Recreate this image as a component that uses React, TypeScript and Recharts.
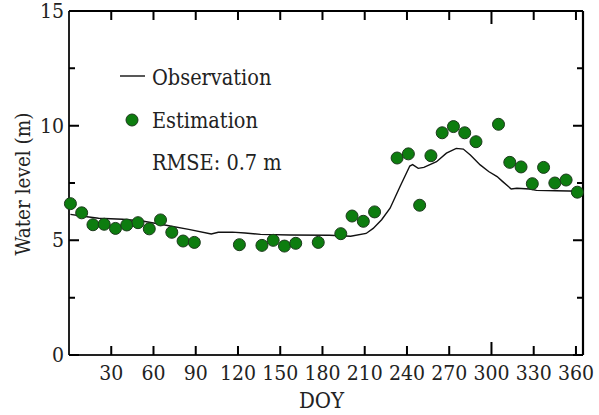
import React from "react";
import { ComposedChart, Line, Scatter, XAxis, YAxis, ReferenceLine } from "recharts";

const obsDays = [1, 10, 21, 38, 52, 68, 85, 101, 106, 116, 125, 136, 157, 185, 200, 211, 216, 222, 228, 235, 242, 244, 248, 252, 261, 268, 275, 280, 285, 292, 298, 304, 308, 314, 318, 327, 332, 346, 355, 364];
const obsLevel = [6.13, 6.05, 5.96, 5.92, 5.84, 5.67, 5.48, 5.28, 5.35, 5.36, 5.32, 5.26, 5.23, 5.22, 5.18, 5.3, 5.52, 5.9, 6.4, 7.34, 8.24, 8.3, 8.14, 8.18, 8.43, 8.8, 9.01, 8.98, 8.72, 8.29, 8.0, 7.78, 7.56, 7.24, 7.27, 7.24, 7.18, 7.16, 7.15, 7.14];

const estDays = [1, 9, 17, 25, 33, 41, 49, 57, 65, 73, 81, 89, 121, 137, 145, 153, 161, 177, 193, 201, 209, 217, 233, 241, 249, 257, 265, 273, 281, 289, 305, 313, 321, 329, 337, 345, 353, 361];
const estLevel = [6.6, 6.2, 5.68, 5.7, 5.52, 5.67, 5.77, 5.5, 5.89, 5.35, 4.97, 4.91, 4.81, 4.78, 5.0, 4.75, 4.87, 4.91, 5.29, 6.06, 5.83, 6.24, 8.59, 8.77, 6.53, 8.69, 9.69, 9.96, 9.69, 9.3, 10.06, 8.4, 8.2, 7.47, 8.18, 7.5, 7.63, 7.1];

const xTicks = [30, 60, 90, 120, 150, 180, 210, 240, 270, 300, 330, 360];
const yTicks = [0, 2.5, 5, 7.5, 10, 12.5, 15];

const obsData = obsDays.map((d, i) => ({ day: d, level: obsLevel[i] }));
const estData = estDays.map((d, i) => ({ day: d, level: estLevel[i] }));

const W = 599;
const H = 415;
const M = { top: 11, right: 16, left: 0, bottom: 0 };
const Y_AXIS_W = 69;
const X_AXIS_H = 60;
const PLOT_TOP = M.top;
const PLOT_RIGHT = W - M.right;

const FONT = '"DejaVu Serif Condensed", "DejaVu Serif", serif';
const AXIS = "#000";
const GREEN = "#0d7d0f";

const xLen = (v: number) => (v === 300 ? 13 : 9);
const yLen = (v: number) => (v % 5 === 0 ? 10 : 6);

// bottom tick + mirrored tick on the top frame
function BottomTick(props: any) {
  const { x, y, payload } = props;
  const len = xLen(payload.value);
  return (
    <g>
      <path d={`M${x},${y}V${y - len}M${x},${PLOT_TOP}V${PLOT_TOP + len}`} stroke={AXIS} strokeWidth={2} fill="none" />
      <text x={x} y={y + 25} textAnchor="middle" style={{ fontFamily: FONT }} fontSize={21} fill="#222">{payload.value}</text>
    </g>
  );
}

// left tick + mirrored tick on the right frame
function LeftTick(props: any) {
  const { x, y, payload } = props;
  const v = payload.value;
  const len = yLen(v);
  return (
    <g>
      <path d={`M${x},${y}H${x + len}M${PLOT_RIGHT},${y}H${PLOT_RIGHT - len}`} stroke={AXIS} strokeWidth={2} fill="none" />
      {v % 5 === 0 && (
        <text x={x - 5} y={y + 7} textAnchor="end" style={{ fontFamily: FONT }} fontSize={21} fill="#222">{v}</text>
      )}
    </g>
  );
}

export default function App() {
  const axisLine = { stroke: "#222", strokeWidth: 2 };
  const txt = { fontFamily: FONT };
  return (
    <div style={{ position: "absolute", left: 0, top: 0, width: W, height: H, background: "#fff" }}>
      <ComposedChart width={W} height={H} margin={M}>
        <XAxis dataKey="day" type="number" domain={[0, 365]} ticks={xTicks} interval={0}
          height={X_AXIS_H} tickSize={0} tickMargin={0} tickLine={false} axisLine={axisLine} tick={<BottomTick />} />
        <YAxis type="number" domain={[0, 15]} ticks={yTicks} interval={0}
          width={Y_AXIS_W} tickSize={0} tickMargin={0} tickLine={false} axisLine={axisLine} tick={<LeftTick />} />
        <ReferenceLine y={15} stroke={AXIS} strokeWidth={2.2} ifOverflow="visible" />
        <ReferenceLine x={365} stroke={AXIS} strokeWidth={2.2} ifOverflow="visible" />
        <Line data={obsData} dataKey="level" type="linear" stroke="#111" strokeWidth={1.4}
          dot={false} activeDot={false} isAnimationActive={false} />
        <Scatter data={estData} dataKey="level" fill={GREEN}
          shape={(p: any) => <circle cx={p.cx} cy={p.cy} r={6} fill={GREEN} stroke="#1c3a1c" strokeWidth={1} />}
          isAnimationActive={false} />
      </ComposedChart>
      <svg width={W} height={H} style={{ position: "absolute", left: 0, top: 0, pointerEvents: "none" }}>
        <path d="M120,76H145" stroke="#111" strokeWidth={1.4} />
        <text x={152} y={84.5} style={txt} fontSize={21.5} fill="#222">Observation</text>
        <circle cx={132} cy={120} r={6} fill={GREEN} stroke="#1c3a1c" strokeWidth={1} />
        <text x={152} y={128.3} style={txt} fontSize={21.5} fill="#222">Estimation</text>
        <text x={152} y={170} style={txt} fontSize={21.5} fill="#222">RMSE: 0.7 m</text>
        <text x={321.5} y={408} textAnchor="middle" style={txt} fontSize={22} fill="#222">DOY</text>
        <text x={30} y={184} textAnchor="middle" transform="rotate(-90, 30, 184)" style={txt} fontSize={20.5} fill="#222">Water level (m)</text>
      </svg>
    </div>
  );
}
